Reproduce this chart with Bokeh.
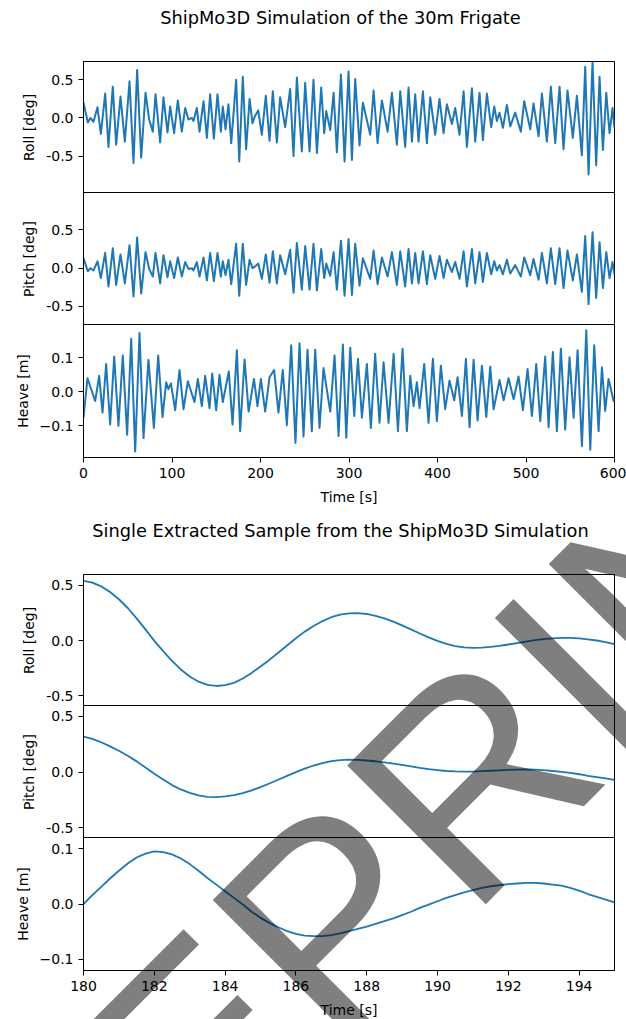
from bokeh.plotting import figure
from bokeh.layouts import column
from bokeh.models import Range1d, Label, FixedTicker, Div
from bokeh.embed import file_html
from bokeh.resources import INLINE

# ---------------- data ----------------
top_title = "ShipMo3D Simulation of the 30m Frigate"
bottom_title = "Single Extracted Sample from the ShipMo3D Simulation"
watermark_text = "PREPRINT"

# full simulation: turning points (time s, value)
roll_t = [
    0, 4.9, 7.9, 11.3, 15.8, 19.6, 24.5, 28.2, 33.1, 36.9,
    41.8, 46.7, 52.0, 56.5, 60.6, 65.2, 70.1, 74.2, 78.3, 81.4,
    86.6, 90.4, 94.9, 97.9, 102.4, 106.6, 111.1, 114.9, 118.6, 122.4,
    124.3, 128.1, 131.1, 135.6, 139.4, 143.1, 147.3, 151.4, 155.2, 157.4,
    160.5, 163.8, 166.9, 172.5, 176.0, 180.0, 183.75, 187.65, 191.0, 193.6,
    197.5, 201.5, 206.0, 210.2, 213.9, 218.5, 222.2, 227.9, 233.5, 237.3,
    241.1, 246.7, 250.5, 255.4, 259.9, 263.7, 268.6, 272.0, 274.3, 278.8,
    282.6, 286.3, 290.9, 295.0, 299.5, 303.3, 307.0, 311.9, 315.7, 324.0,
    327.8, 332.3, 337.2, 343.6, 348.5, 354.1, 357.9, 363.5, 367.3, 371.1,
    374.8, 378.6, 383.5, 388.0, 391.8, 397.4, 402.3, 406.9, 410.6, 416.3,
    420.0, 424.9, 429.5, 433.2, 438.9, 442.6, 447.5, 451.3, 455.8, 460.7,
    464.1, 467.1, 470.1, 473.9, 478.4, 482.2, 487.8, 494.2, 498.0, 504.8,
    508.5, 514.2, 518.0, 523.6, 528.1, 533.0, 537.9, 542.4, 546.9, 552.9,
    557.5, 563.1, 566.9, 570.7, 575.2, 579.3, 583.1, 586.9, 590.7, 594.4,
    597.8, 600]
roll_v = [
    0.20, -0.06, 0.0, -0.05, 0.14, -0.21, 0.32, -0.38, 0.41, -0.35,
    0.28, -0.31, 0.48, -0.59, 0.63, -0.52, 0.33, -0.02, -0.18, 0.31,
    -0.32, 0.27, -0.19, 0.15, -0.20, 0.23, -0.18, 0.13, -0.02, 0.0,
    -0.04, 0.13, -0.18, 0.22, -0.26, 0.31, -0.27, 0.31, -0.18, 0.15,
    -0.15, 0.18, -0.33, 0.50, -0.57, 0.54, -0.41, 0.25, -0.07, 0.02,
    0.10, -0.22, 0.29, -0.30, 0.35, -0.32, 0.27, -0.12, 0.38, -0.50,
    0.53, -0.44, 0.46, -0.44, 0.50, -0.46, 0.40, -0.20, 0.09, -0.16,
    0.33, -0.45, 0.57, -0.57, 0.61, -0.55, 0.51, -0.36, 0.20, -0.22,
    0.36, -0.33, 0.23, -0.18, 0.33, -0.35, 0.35, -0.38, 0.40, -0.31,
    0.31, -0.31, 0.35, -0.33, 0.27, -0.22, 0.25, -0.20, 0.18, -0.08,
    0.13, -0.22, 0.35, -0.38, 0.39, -0.31, 0.33, -0.29, 0.32, -0.12,
    0.15, -0.04, 0.07, -0.13, 0.17, -0.11, 0.07, -0.18, 0.22, -0.15,
    0.19, -0.24, 0.32, -0.31, 0.41, -0.33, 0.41, -0.41, 0.36, -0.26,
    0.29, -0.49, 0.67, -0.74, 0.74, -0.62, 0.54, -0.42, 0.33, -0.20,
    0.13, -0.13]

pitch_t = list(roll_t)
pitch_v = [
    0.13, -0.04, 0.0, -0.03, 0.09, -0.13, 0.20, -0.24, 0.26, -0.22,
    0.18, -0.20, 0.30, -0.37, 0.40, -0.33, 0.21, -0.01, -0.11, 0.20,
    -0.20, 0.17, -0.12, 0.09, -0.13, 0.14, -0.11, 0.08, -0.01, 0.0,
    -0.03, 0.08, -0.11, 0.14, -0.16, 0.20, -0.17, 0.20, -0.11, 0.09,
    -0.09, 0.11, -0.21, 0.32, -0.36, 0.32, -0.22, 0.11, 0.0, 0.02,
    0.06, -0.14, 0.18, -0.19, 0.22, -0.20, 0.17, -0.08, 0.24, -0.32,
    0.33, -0.28, 0.29, -0.28, 0.32, -0.29, 0.25, -0.13, 0.06, -0.10,
    0.21, -0.28, 0.36, -0.36, 0.38, -0.35, 0.32, -0.23, 0.13, -0.14,
    0.23, -0.21, 0.14, -0.11, 0.21, -0.22, 0.22, -0.24, 0.25, -0.20,
    0.20, -0.20, 0.22, -0.21, 0.17, -0.14, 0.16, -0.13, 0.11, -0.05,
    0.08, -0.14, 0.22, -0.24, 0.25, -0.20, 0.21, -0.18, 0.20, -0.08,
    0.09, -0.03, 0.04, -0.08, 0.11, -0.07, 0.04, -0.11, 0.14, -0.09,
    0.12, -0.15, 0.20, -0.20, 0.26, -0.21, 0.26, -0.26, 0.23, -0.16,
    0.18, -0.31, 0.42, -0.47, 0.47, -0.39, 0.34, -0.26, 0.21, -0.13,
    0.08, -0.08]

heave_t = [
    0, 4.5, 13.2, 17.7, 21.5, 25.6, 30.1, 34.7, 39.5, 44.4,
    49.3, 53.9, 58.4, 63.3, 67.8, 73.4, 79.5, 84.4, 89.3, 93.4,
    96.0, 98.8, 103.6, 108.5, 113.0, 117.9, 125.4, 129.2, 133.7, 137.5,
    142.4, 145.4, 149.9, 153.7, 157.4, 164.2, 168.4, 173.3, 177.0, 182.0,
    186.6, 192.6, 196.6, 200.4, 205.3, 210.2, 215.4, 220.3, 225.2, 229.8,
    234.7, 239.5, 244.1, 248.6, 253.1, 258.0, 261.8, 266.7, 271.2, 278.8,
    283.7, 288.2, 293.1, 296.9, 301.4, 305.9, 310.1, 314.6, 320.2, 324.7,
    329.6, 334.5, 339.1, 344.7, 350.4, 355.3, 360.5, 365.4, 369.2, 373.0,
    376.7, 379.7, 385.0, 389.9, 394.8, 399.3, 403.8, 408.7, 413.6, 418.9,
    422.7, 427.6, 432.1, 436.2, 440.8, 445.3, 450.2, 455.1, 459.6, 463.4,
    470.1, 474.7, 480.3, 486.0, 491.6, 496.5, 501.8, 506.7, 511.6, 516.1,
    521.7, 525.5, 530.4, 534.9, 539.4, 544.3, 549.2, 553.8, 558.3, 563.2,
    568.1, 572.6, 577.1, 582.0, 585.8, 589.5, 593.3, 599.0, 600]
heave_v = [
    -0.076, 0.040, -0.027, 0.047, -0.061, 0.082, -0.096, 0.104, -0.100, 0.107,
    -0.126, 0.156, -0.175, 0.173, -0.136, 0.094, -0.106, 0.107, -0.074, 0.028,
    0.008, 0.025, -0.054, 0.064, -0.051, 0.031, -0.030, 0.038, -0.042, 0.047,
    -0.048, 0.054, -0.054, 0.050, -0.030, 0.060, -0.096, 0.122, -0.116, 0.095,
    -0.058, 0.038, -0.042, 0.038, -0.058, 0.043, 0.064, -0.061, 0.064, -0.098,
    0.137, -0.150, 0.143, -0.131, 0.124, -0.116, 0.124, -0.106, 0.070, -0.058,
    0.107, -0.130, 0.139, -0.135, 0.130, -0.071, 0.097, -0.076, 0.082, -0.106,
    0.112, -0.091, 0.087, -0.091, 0.112, -0.116, 0.127, -0.116, 0.047, -0.042,
    0.028, -0.048, 0.082, -0.091, 0.097, -0.086, 0.077, -0.051, 0.033, -0.025,
    0.043, -0.071, 0.097, -0.104, 0.094, -0.084, 0.077, -0.074, 0.074, -0.051,
    0.035, -0.025, 0.040, -0.022, 0.045, -0.054, 0.067, -0.071, 0.082, -0.086,
    0.104, -0.104, 0.117, -0.116, 0.127, -0.111, 0.102, -0.076, 0.122, -0.160,
    0.181, -0.170, 0.137, -0.116, 0.072, -0.056, 0.038, -0.027, -0.020]

# extracted sample, 180 s - 195 s, read every 0.25 s
sample_t = [
    180.0, 180.25, 180.5, 180.75, 181.0, 181.25, 181.5, 181.75, 182.0, 182.25,
    182.5, 182.75, 183.0, 183.25, 183.5, 183.75, 184.0, 184.25, 184.5, 184.75,
    185.0, 185.25, 185.5, 185.75, 186.0, 186.25, 186.5, 186.75, 187.0, 187.25,
    187.5, 187.75, 188.0, 188.25, 188.5, 188.75, 189.0, 189.25, 189.5, 189.75,
    190.0, 190.25, 190.5, 190.75, 191.0, 191.25, 191.5, 191.75, 192.0, 192.25,
    192.5, 192.75, 193.0, 193.25, 193.5, 193.75, 194.0, 194.25, 194.5, 194.75,
    195.0]
sample_roll = [
    0.538, 0.522, 0.488, 0.437, 0.372, 0.293, 0.200, 0.100, -0.003, -0.096,
    -0.183, -0.261, -0.324, -0.371, -0.400, -0.410, -0.403, -0.382, -0.342, -0.292,
    -0.235, -0.175, -0.110, -0.045, 0.020, 0.080, 0.130, 0.175, 0.210, 0.233,
    0.245, 0.246, 0.239, 0.223, 0.199, 0.170, 0.136, 0.100, 0.063, 0.028,
    -0.004, -0.030, -0.050, -0.062, -0.066, -0.064, -0.058, -0.048, -0.036, -0.023,
    -0.010, 0.003, 0.013, 0.020, 0.024, 0.023, 0.019, 0.011, 0.000, -0.015,
    -0.033]
sample_pitch = [
    0.317, 0.296, 0.266, 0.229, 0.190, 0.145, 0.095, 0.040, -0.015, -0.067,
    -0.117, -0.156, -0.187, -0.210, -0.222, -0.225, -0.219, -0.207, -0.189, -0.164,
    -0.136, -0.103, -0.069, -0.035, -0.001, 0.030, 0.058, 0.080, 0.097, 0.107,
    0.110, 0.108, 0.103, 0.096, 0.086, 0.075, 0.063, 0.050, 0.037, 0.026,
    0.017, 0.009, 0.005, 0.003, 0.004, 0.007, 0.011, 0.015, 0.019, 0.022,
    0.024, 0.022, 0.016, 0.009, 0.002, -0.008, -0.020, -0.034, -0.046, -0.058,
    -0.070]
sample_heave = [
    0.000, 0.016, 0.031, 0.046, 0.060, 0.073, 0.084, 0.091, 0.095, 0.0935,
    0.0895, 0.082, 0.072, 0.060, 0.047, 0.035, 0.023, 0.011, -0.001, -0.014,
    -0.025, -0.034, -0.042, -0.049, -0.054, -0.057, -0.058, -0.058, -0.056, -0.053,
    -0.049, -0.045, -0.041, -0.036, -0.031, -0.026, -0.020, -0.014, -0.007, -0.001,
    0.005, 0.011, 0.016, 0.021, 0.025, 0.029, 0.032, 0.034, 0.036, 0.037,
    0.038, 0.038, 0.037, 0.035, 0.033, 0.029, 0.024, 0.018, 0.013, 0.008,
    0.003]

top_xticks = [0, 100, 200, 300, 400, 500, 600]
bottom_xticks = [180, 182, 184, 186, 188, 190, 192, 194]
deg_ticks = [-0.5, 0.0, 0.5]
deg_tick_labels = ["-0.5", "0.0", "0.5"]
heave_ticks = [-0.1, 0.0, 0.1]
heave_tick_labels = ["\u22120.1", "0.0", "0.1"]

# ---------------- styling / layout ----------------
FONT = "DejaVu Sans"
BLUE = "#1f77b4"
PAGE_W = 626
PAGE_H = 1019
FRAME_W = 531
BORDER_L = 83
BORDER_R = PAGE_W - BORDER_L - FRAME_W
FH_FIRST = 132     # first panel of a stack
FH_NEXT = 133      # following panels overlap the previous by 1px
T1_H = 61          # title strip heights
T2_H = 67
H1_BOTB = 50
H2_BOTB = 48


def style_axis(ax, label, tick_standoff, label_standoff):
    ax.axis_label = label
    ax.axis_line_color = "black"
    ax.axis_line_width = 1
    ax.major_tick_line_color = "black"
    ax.major_tick_line_width = 1
    ax.major_tick_out = 5
    ax.major_tick_in = 0
    ax.minor_tick_line_color = None
    ax.major_label_text_font = FONT
    ax.major_label_text_font_size = "14px"
    ax.major_label_text_color = "black"
    ax.major_label_standoff = tick_standoff
    ax.axis_label_text_font = FONT
    ax.axis_label_text_font_size = "14px"
    ax.axis_label_text_font_style = "normal"
    ax.axis_label_text_color = "black"
    ax.axis_label_standoff = label_standoff


def panel(xr, yr, yticks, ylabels, ylabel, fh, overlap, xticks=None, xlabel=None, bottom_border=0):
    p = figure(frame_width=FRAME_W, frame_height=fh,
               x_range=Range1d(*xr), y_range=Range1d(*yr),
               x_axis_location=("below" if xticks is not None else None),
               y_axis_location="left",
               output_backend="svg", toolbar_location=None,
               min_border_left=BORDER_L, min_border_right=BORDER_R,
               min_border_top=0, min_border_bottom=bottom_border,
               margin=((-1, 0, 0, 0) if overlap else (0, 0, 0, 0)))
    p.grid.visible = False
    p.outline_line_color = "black"
    p.outline_line_width = 1
    p.background_fill_color = "white"
    p.border_fill_color = "white"
    ya = p.yaxis[0]
    ya.ticker = FixedTicker(ticks=yticks)
    ya.major_label_overrides = {t: s for t, s in zip(yticks, ylabels)}
    style_axis(ya, ylabel, 5, 6)
    if xticks is not None:
        xa = p.xaxis[0]
        xa.ticker = FixedTicker(ticks=xticks)
        style_axis(xa, xlabel, 5, 8)
    return p


def strip(h):
    # title strip: its frame is aligned with the panels, data units = page pixels
    s = figure(frame_width=FRAME_W, frame_height=h,
               x_range=Range1d(BORDER_L, BORDER_L + FRAME_W), y_range=Range1d(0, h),
               x_axis_location=None, y_axis_location=None,
               output_backend="svg", toolbar_location=None,
               min_border_left=BORDER_L, min_border_right=BORDER_R,
               min_border_top=0, min_border_bottom=0)
    s.grid.visible = False
    s.outline_line_color = None
    s.background_fill_color = "white"
    s.border_fill_color = "white"
    return s


def add_line(p, x, y, width):
    p.line(x, y, line_color=BLUE, line_width=width, line_join="round")


# ranges
TOP_X = (0, 600)
BOT_X = (180, 195)
R1_Y = (-0.99, 0.74)
P1_Y = (-0.75, 0.99)
H1_Y = (-0.193, 0.198)
R2_Y = (-0.595, 0.595)
P2_Y = (-0.595, 0.595)
H2_Y = (-0.12, 0.12)

TITLE_SIZE = "17.8px"

# ---- top chart ----
t1 = strip(T1_H)
t1.add_layout(Label(x=340, y=T1_H - 17, text=top_title, text_font=FONT, text_font_size=TITLE_SIZE,
                    text_align="center", text_baseline="middle", text_color="black"))
r1 = panel(TOP_X, R1_Y, deg_ticks, deg_tick_labels, "Roll [deg]", FH_FIRST, False)
add_line(r1, roll_t, roll_v, 2)
p1 = panel(TOP_X, P1_Y, deg_ticks, deg_tick_labels, "Pitch [deg]", FH_NEXT, True)
add_line(p1, pitch_t, pitch_v, 2)
h1 = panel(TOP_X, H1_Y, heave_ticks, heave_tick_labels, "Heave [m]", FH_NEXT, True,
           xticks=top_xticks, xlabel="Time [s]", bottom_border=H1_BOTB)
add_line(h1, heave_t, heave_v, 2)

# ---- bottom chart ----
t2 = strip(T2_H)
t2.add_layout(Label(x=340, y=T2_H - 23, text=bottom_title, text_font=FONT, text_font_size=TITLE_SIZE,
                    text_align="center", text_baseline="middle", text_color="black"))
r2 = panel(BOT_X, R2_Y, deg_ticks, deg_tick_labels, "Roll [deg]", FH_FIRST, False)
add_line(r2, sample_t, sample_roll, 1.8)
p2 = panel(BOT_X, P2_Y, deg_ticks, deg_tick_labels, "Pitch [deg]", FH_NEXT, True)
add_line(p2, sample_t, sample_pitch, 1.8)
h2 = panel(BOT_X, H2_Y, heave_ticks, heave_tick_labels, "Heave [m]", FH_NEXT, True,
           xticks=bottom_xticks, xlabel="Time [s]", bottom_border=H2_BOTB)
add_line(h2, sample_t, sample_heave, 1.8)

# ---- watermark stamp laid over the whole page (not clipped to the frames) ----
WM_X, WM_Y = 430, 960      # page px: baseline centre of the stamp
WM_SIZE = 285
stamp_html = (
    f'<div style="position:fixed;left:0;top:0;width:{PAGE_W}px;height:{PAGE_H}px;'
    f'pointer-events:none;z-index:100;overflow:hidden;">'
    f'<svg xmlns="http://www.w3.org/2000/svg" width="{PAGE_W}" height="{PAGE_H}" '
    f'viewBox="0 0 {PAGE_W} {PAGE_H}" style="display:block">'
    f'<text x="{WM_X}" y="{WM_Y}" transform="rotate(-45 {WM_X} {WM_Y})" '
    f'text-anchor="middle" font-family="DejaVu Sans" font-size="{WM_SIZE}px" '
    f'fill="#000000" fill-opacity="0.5">{watermark_text}</text></svg></div>'
)
stamp = Div(text=stamp_html, width=1, height=1,
            styles={"position": "absolute", "left": "0px", "top": "0px"})

layout = column(t1, r1, p1, h1, t2, r2, p2, h2, stamp, spacing=0)
open("out.html", "w").write(file_html(layout, INLINE))
